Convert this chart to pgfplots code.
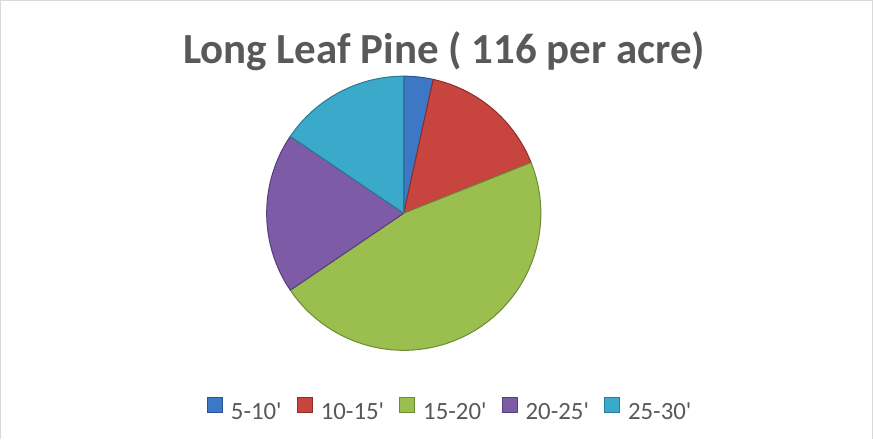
\documentclass[border=0pt]{standalone}
\usepackage{pgfplots}
\pgfplotsset{compat=1.18}
\usepackage{fontspec}
\setmainfont{Carlito}

\definecolor{txtgray}{HTML}{595959}
\definecolor{frame}{HTML}{D9D9D9}
\definecolor{c1}{HTML}{3C78C6}\definecolor{d1}{HTML}{2A5590}
\definecolor{c2}{HTML}{C8443F}\definecolor{d2}{HTML}{8E2E2A}
\definecolor{c3}{HTML}{9BBF4F}\definecolor{d3}{HTML}{6E8A36}
\definecolor{c4}{HTML}{7D5BA6}\definecolor{d4}{HTML}{56407A}
\definecolor{c5}{HTML}{3BAACA}\definecolor{d5}{HTML}{2A7A92}

% trees per acre by height class, total 116
% #1 = count before this slice, #2 = count of slice
\newcommand\slice[4]{%
  \fill[#3, draw=#4, line width=0.5pt, line join=round]
    (axis cs:406,224) -- ++({90-#1/116*360}:68pt)
    arc[start angle={90-#1/116*360}, delta angle={-#2/116*360}, radius=68pt] -- cycle;}

\begin{document}
\begin{tikzpicture}
\begin{axis}[
  width=436.5pt, height=220.5pt, scale only axis,
  xmin=0, xmax=873, ymin=0, ymax=441,
  hide axis, clip=false,
  legend columns=5,
  legend style={draw=none, fill=none, at={(0.519,0.061)}, anchor=center,
    font=\fontsize{12.3}{14}\selectfont, text=txtgray,
    /tikz/every even column/.append style={column sep=5.5pt},
    /tikz/every odd column/.append style={column sep=2pt}},
  legend image code/.code={\draw[#1] (0pt,0pt) rectangle (7.5pt,7.5pt);},
]
\draw[frame, line width=0.6pt] (axis cs:6,0) -- (axis cs:6,435) -- (axis cs:871,435) -- (axis cs:871,0);
\node[font=\bfseries\fontsize{21.3}{25}\selectfont, text=txtgray, anchor=base] at (axis cs:446,373) {Long Leaf Pine ( 116 per acre)};

\slice{0}{4}{c1}{d1}
\slice{4}{18}{c2}{d2}
\slice{22}{54}{c3}{d3}
\slice{76}{22}{c4}{d4}
\slice{98}{18}{c5}{d5}

\addlegendimage{fill=c1, draw=d1}\addlegendentry{5-10\textquotesingle}
\addlegendimage{fill=c2, draw=d2}\addlegendentry{10-15\textquotesingle}
\addlegendimage{fill=c3, draw=d3}\addlegendentry{15-20\textquotesingle}
\addlegendimage{fill=c4, draw=d4}\addlegendentry{20-25\textquotesingle}
\addlegendimage{fill=c5, draw=d5}\addlegendentry{25-30\textquotesingle}
\end{axis}
\end{tikzpicture}
\end{document}
